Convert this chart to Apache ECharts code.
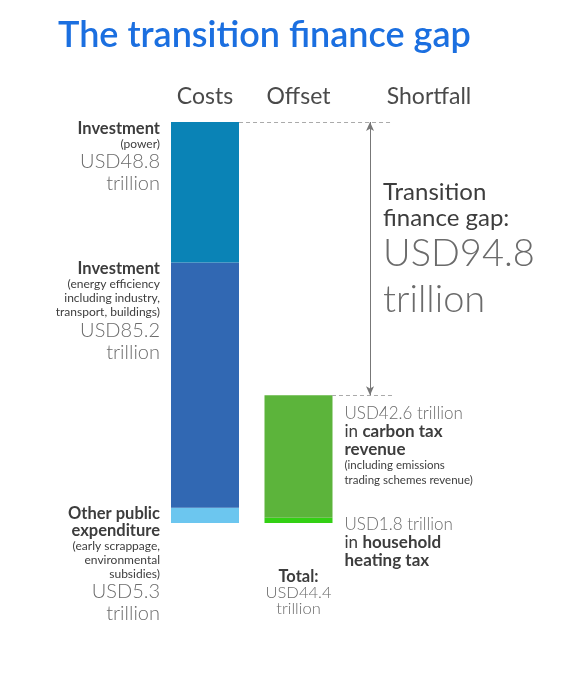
<!DOCTYPE html>
<html><head><meta charset="utf-8">
<script src="https://cdn.jsdelivr.net/npm/echarts@6/dist/echarts.min.js"></script>
<style>html,body{margin:0;padding:0;background:#fff}#c{width:568px;height:680px}</style>
</head><body><div id="c"></div>
<script>
const categories = ['Costs', 'Offset', 'Shortfall'];
const costValues = [48.8, 85.2, 5.3];
const costTitles = ['Investment', 'Investment', 'Other public\nexpenditure'];
const costNotes = ['(power)', '(energy efficiency\nincluding industry,\ntransport, buildings)', '(early scrappage,\nenvironmental\nsubsidies)'];
const offsetValues = [42.6, 1.8];
const offsetTopics = ['carbon tax\nrevenue', 'household\nheating tax'];
const offsetNotes = ['(including emissions\ntrading schemes revenue)', ''];
const offsetTotalLabel = 'USD44.4';
const gapLabel = 'USD94.8';
const titleText = 'The transition finance gap';

const FONT = 'Lato';
const costColors = ['#0a83b6', '#3168b3', '#6cc6ef'];
const offsetColors = ['#5cb43b', '#33d014'];

const costTotal = costValues.reduce((a, b) => a + b, 0);
const offsetTotal = offsetValues.reduce((a, b) => a + b, 0);

const costRich = {
  b: {fontFamily: FONT, fontSize: 16.5, fontWeight: 'bold', color: '#3d3d3d', lineHeight: 17, align: 'right'},
  s: {fontFamily: FONT, fontSize: 12, color: '#3d3d3d', lineHeight: 14, align: 'right'},
  v: {fontFamily: FONT, fontSize: 20, fontWeight: 300, color: '#6b6b6b', lineHeight: 22, align: 'right'}
};
const offRich = {
  v: {fontFamily: FONT, fontSize: 17, fontWeight: 300, color: '#6b6b6b', lineHeight: 18},
  n: {fontFamily: FONT, fontSize: 17, color: '#3d3d3d', lineHeight: 18},
  bb: {fontFamily: FONT, fontSize: 17, fontWeight: 'bold', color: '#3d3d3d', lineHeight: 18},
  s: {fontFamily: FONT, fontSize: 11.5, color: '#3d3d3d', lineHeight: 15}
};

function costSeries(i, posY) {
  const data = categories.map((c, k) => k === 0 ? costValues[i] : null);
  return {
    type: 'bar', name: costTitles[i], stack: 'main', data, barWidth: 68, barGap: '-100%',
    itemStyle: {color: costColors[i]}, silent: true,
    label: {
      show: true, position: [-11, posY], align: 'right', verticalAlign: 'top',
      formatter: p => '{b|' + costTitles[i] + '}\n{s|' + costNotes[i] + '}\n{v|USD' + costValues[i] + '}\n{v|trillion}',
      rich: costRich
    }
  };
}
function offsetSeries(i, posY) {
  const data = categories.map((c, k) => k === 1 ? offsetValues[i] : null);
  const t = offsetTopics[i].split('\n');
  let f = '{v|USD' + offsetValues[i] + ' trillion}\n{n|in }{bb|' + t[0] + '}\n{bb|' + t[1] + '}';
  if (offsetNotes[i]) f += '\n{s|' + offsetNotes[i] + '}';
  return {
    type: 'bar', name: t.join(' '), stack: 'main', data, barWidth: 68, barGap: '-100%',
    itemStyle: {color: offsetColors[i]}, silent: true,
    label: {show: true, position: [80, posY], align: 'left', verticalAlign: 'top', formatter: () => f, rich: offRich}
  };
}

const option = {
  animation: false,
  backgroundColor: '#fff',
  title: {
    text: titleText, left: 53, top: 12,
    textStyle: {fontFamily: FONT, fontSize: 36, fontWeight: 600, color: '#1b6fe0'}
  },
  grid: {left: 158.25, width: 280.5, top: 122, bottom: 157},
  xAxis: [{
    type: 'category', data: categories, position: 'top',
    axisLine: {show: false}, axisTick: {show: false}, splitLine: {show: false},
    axisLabel: {
      margin: 14, interval: 0,
      formatter: v => v === 'Shortfall' ? '{sh|' + v + '}' : '{n|' + v + '}',
      rich: {
        n: {fontFamily: FONT, fontSize: 23, color: '#4a4a4a'},
        sh: {fontFamily: FONT, fontSize: 23, color: '#4a4a4a', padding: [0, 0, 0, 74]}
      }
    }
  }, {
    type: 'value', min: -0.5, max: 2.5, show: false
  }],
  yAxis: {type: 'value', min: 0, max: costTotal, show: false},
  series: [
    costSeries(2, -3),
    costSeries(1, -2),
    costSeries(0, -2),
    offsetSeries(1, -2),
    offsetSeries(0, 9),
    {
      type: 'bar', name: 'base', stack: 'main', barWidth: 68, barGap: '-100%', silent: true,
      data: categories.map((c, k) => k === 2 ? offsetTotal : null),
      itemStyle: {color: 'rgba(0,0,0,0)'}
    },
    {
      type: 'bar', name: 'gap', stack: 'main', barWidth: 68, barGap: '-100%', silent: true,
      data: categories.map((c, k) => k === 2 ? costTotal - offsetTotal : null),
      itemStyle: {color: 'rgba(0,0,0,0)'},
      label: {
        show: true, position: [25, 57], align: 'left', verticalAlign: 'top',
        formatter: () => '{h|Transition\nfinance gap:}\n{g|' + gapLabel + '\ntrillion}',
        rich: {
          h: {fontFamily: FONT, fontSize: 24, color: '#3d3d3d', lineHeight: 26},
          g: {fontFamily: FONT, fontSize: 38, fontWeight: 300, color: '#6b6b6b', lineHeight: 46}
        }
      }
    },
    {
      type: 'bar', name: 'total', stack: 'total', barWidth: 68, barGap: '-100%', silent: true,
      data: categories.map((c, k) => k === 1 ? offsetTotal : null),
      itemStyle: {color: 'rgba(0,0,0,0)'},
      label: {
        show: true, position: 'bottom', distance: 46,
        formatter: () => '{t|Total:}\n{v|' + offsetTotalLabel + '}\n{v|trillion}',
        rich: {
          t: {fontFamily: FONT, fontSize: 16.5, fontWeight: 'bold', color: '#3d3d3d', lineHeight: 16},
          v: {fontFamily: FONT, fontSize: 16.5, fontWeight: 300, color: '#6b6b6b', lineHeight: 16}
        }
      }
    },
    {
      type: 'scatter', xAxisIndex: 1, data: [], silent: true,
      markLine: {
        silent: true, animation: false,
        label: {show: false},
        data: [
          [{coord: [0.364, costTotal], symbol: 'none', lineStyle: {color: '#aaaaaa', type: [4, 3], width: 1}},
           {coord: [2.0, costTotal], symbol: 'none'}],
          [{coord: [1.358, offsetTotal], symbol: 'none', lineStyle: {color: '#aaaaaa', type: [4, 3], width: 1}},
           {coord: [2.0, offsetTotal], symbol: 'none'}],
          [{coord: [1.765, costTotal], symbol: 'arrow', symbolSize: [6, 9], lineStyle: {color: '#777777', type: 'solid', width: 1}},
           {coord: [1.765, offsetTotal], symbol: 'arrow', symbolSize: [6, 9]}]
        ]
      }
    }
  ]
};
const chart = echarts.init(document.getElementById('c'), null, {renderer: 'canvas'});
chart.setOption(option);
</script>
</body></html>
